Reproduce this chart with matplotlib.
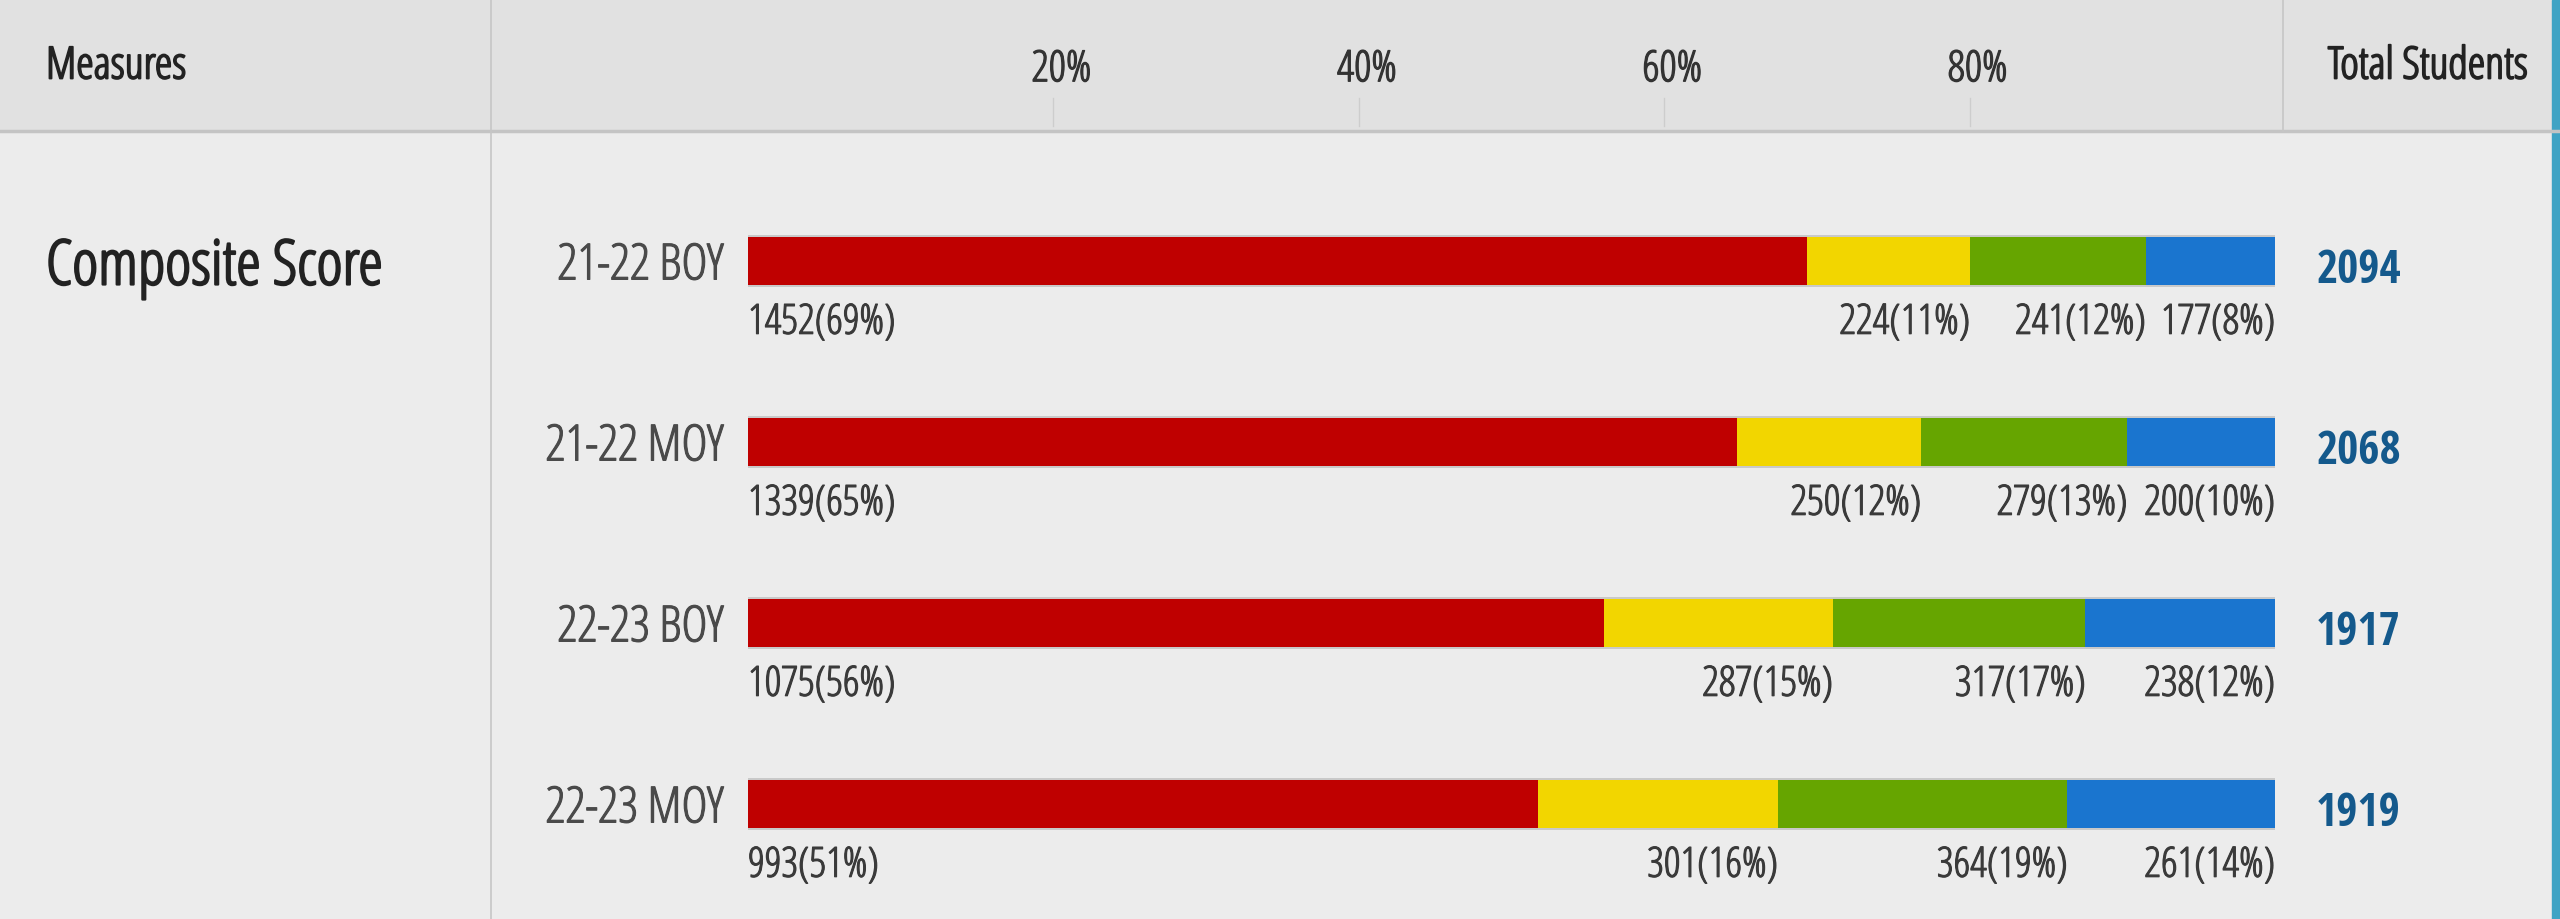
import matplotlib
matplotlib.use('Agg')
import matplotlib.pyplot as plt
import matplotlib.patches as patches
import matplotlib.patheffects as pe
from matplotlib import transforms, font_manager
from matplotlib.font_manager import FontProperties

# data
rows = ['21-22 BOY', '21-22 MOY', '22-23 BOY', '22-23 MOY']
red = [1452, 1339, 1075, 993]
yellow = [224, 250, 287, 301]
green = [241, 279, 317, 364]
blue = [177, 200, 238, 261]
red_pct = [69, 65, 56, 51]
yellow_pct = [11, 12, 15, 16]
green_pct = [12, 13, 17, 19]
blue_pct = [8, 10, 12, 14]
totals = [2094, 2068, 1917, 1919]
ticks = [20, 40, 60, 80]
measure = 'Composite Score'

colors = ['#bf0000', '#f2d600', '#66a500', '#1a75cf']

# look for a regular / light condensed font file
files = [f.fname for f in font_manager.fontManager.ttflist]
thin_file = None
for key in ['Condensed-Regular', 'Condensed-Light', 'CondLight', 'Condensed-Medium']:
    for fn in files:
        name = fn.split('/')[-1]
        if 'OpenSans' in name and key in name and 'Italic' not in name:
            thin_file = fn
            break
    if thin_file:
        break
installed = {f.name for f in font_manager.fontManager.ttflist}
bold_family = 'Open Sans Condensed' if 'Open Sans Condensed' in installed else 'DejaVu Sans'


def thin(size):
    if thin_file:
        return FontProperties(fname=thin_file, size=size)
    return FontProperties(family=['Fira Sans Condensed', 'DejaVu Sans'], size=size)


# light font drawn a bit heavier
def heavy(color, lw=1.0):
    return [pe.withStroke(linewidth=lw, foreground=color)]


fig = plt.figure(figsize=(25.6, 9.19), dpi=100)
fig.patch.set_facecolor('#ececec')

# background in pixels
bg = fig.add_axes([0, 0, 1, 1])
bg.set_xlim(0, 2560)
bg.set_ylim(919, 0)
bg.axis('off')
bg.add_patch(patches.Rectangle((0, 0), 2560, 131, color='#e1e1e1', zorder=0))
bg.plot([0, 2560], [131, 131], color='#c4c4c4', lw=2.5)
bg.plot([491, 491], [0, 919], color='#c6c6c6', lw=1.2)
bg.plot([2283, 2283], [0, 131], color='#c6c6c6', lw=1.2)
bg.add_patch(patches.Rectangle((2552, 0), 8, 919, color='#3fa3c4'))

bg.text(46, 67, 'Measures', fontproperties=thin(32), color='#222222', va='center', ha='left',
        path_effects=heavy('#222222', 1.3))
bg.text(2328, 67, 'Total Students', fontproperties=thin(32), color='#222222', va='center', ha='left',
        path_effects=heavy('#222222', 1.3))
bg.text(46, 268, measure, fontproperties=thin(45), color='#222222', va='center', ha='left',
        path_effects=heavy('#222222', 1.6))

# bar axes
ax = fig.add_axes([748 / 2560, 1 - 894.5 / 919, 1527 / 2560, 724 / 919])
ax.set_xlim(0, 100)
ax.set_ylim(3.5, -0.5)
ax.axis('off')
ax.patch.set_alpha(0)

# tick marks and labels in the header
trans = transforms.blended_transform_factory(ax.transData, bg.transData)
for t in ticks:
    bg.plot([t, t], [98, 126], color='#cdcdcd', lw=1, transform=trans)
    bg.text(t, 70, f'{t}%', fontproperties=thin(31), color='#333333', ha='center', va='center',
            path_effects=heavy('#333333', 0.9),
            transform=trans + transforms.ScaledTranslation(0.08, 0, fig.dpi_scale_trans))

y = list(range(len(rows)))
full = [100 for _ in rows]
ax.barh(y, full, height=0.285, color='#c9c9c9', zorder=1)

series = [red, yellow, green, blue]
pcts = [red_pct, yellow_pct, green_pct, blue_pct]
lefts = [0.0 for _ in rows]
for s, p, c in zip(series, pcts, colors):
    widths = [v / tot * 100 for v, tot in zip(s, totals)]
    ax.barh(y, widths, left=lefts, height=0.265, color=c, zorder=2)
    for i in y:
        end = lefts[i] + widths[i]
        label = f'{s[i]}({p[i]}%)'
        if c == colors[0]:
            ax.text(0, i + 0.34, label, fontproperties=thin(30), color='#3a3a3a', ha='left', va='center',
                    path_effects=heavy('#3a3a3a', 0.8))
        else:
            ax.text(end, i + 0.34, label, fontproperties=thin(30), color='#3a3a3a', ha='right', va='center',
                    path_effects=heavy('#3a3a3a', 0.8))
    lefts = [l + w for l, w in zip(lefts, widths)]

for i in y:
    ax.text(-1.6, i + 0.03, rows[i], fontproperties=thin(36), color='#4a4a4a', ha='right', va='center',
            path_effects=heavy('#4a4a4a', 0.8))
    ax.text(102.7, i + 0.05, str(totals[i]), fontsize=33, fontweight='bold', family=[bold_family, 'DejaVu Sans'],
            color='#14598c', ha='left', va='center')

fig.savefig('out.png', dpi=100, facecolor=fig.get_facecolor())
